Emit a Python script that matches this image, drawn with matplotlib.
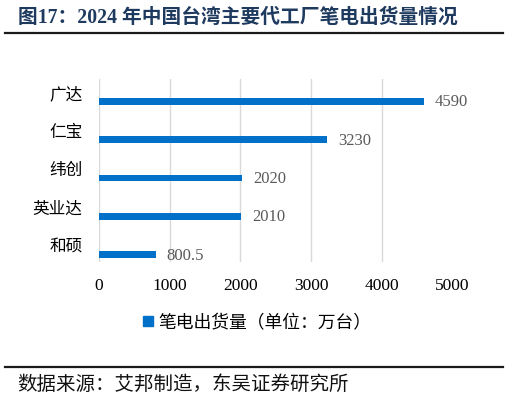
import matplotlib.pyplot as plt
from matplotlib.lines import Line2D

# data
companies = ["广达", "仁宝", "纬创", "英业达", "和硕"]
shipments = [4590, 3230, 2020, 2010, 800.5]
value_labels = ["4590", "3230", "2020", "2010", "800.5"]
xticks = [0, 1000, 2000, 3000, 4000, 5000]

serif_cjk = ["Liberation Serif", "Noto Sans CJK SC"]
bar_color = "#0070C8"

fig = plt.figure(figsize=(5.09, 4.02), dpi=100)
W, H = 509, 402

# plot area in pixels: left 99, right 452.5, top 80, bottom 263
ax = fig.add_axes([99 / W, 1 - 263 / H, (452.5 - 99) / W, (263 - 80) / H])

ypos = [4, 3, 2, 1, 0]
ax.barh(ypos, shipments, height=0.18, color=bar_color, zorder=3)
ax.set_xlim(0, 5000)
ax.set_ylim(-0.196, 4.588)

for y, v, lab in zip(ypos, shipments, value_labels):
    ax.annotate(lab, (v, y), xytext=(8, 0), textcoords="offset points",
                va="center", ha="left", fontsize=12, color="#595959",
                family=serif_cjk)

ax.set_xticks(xticks)
ax.set_xticklabels([str(t) for t in xticks], family=serif_cjk, fontsize=12.5)
ax.set_yticks([y + 0.25 for y in ypos])
ax.set_yticklabels(companies, family=serif_cjk, fontsize=12)
ax.tick_params(length=0, pad=11, axis="x")
ax.tick_params(length=0, pad=12, axis="y")
ax.grid(axis="x", color="#D9D9D9", linewidth=1, zorder=0)
for s in ax.spines.values():
    s.set_visible(False)

# legend
handle = Line2D([], [], marker="s", linestyle="none", color=bar_color, markersize=7)
fig.legend([handle], ["笔电出货量（单位：万台）"], loc="center",
           bbox_to_anchor=(255 / W, 1 - 324 / H), frameon=False,
           prop={"family": serif_cjk, "size": 12.8}, handletextpad=0.1,
           handlelength=1)

# title, rules and source
fig.text(18 / W, 1 - 18 / H, "图17：2024 年中国台湾主要代工厂笔电出货量情况",
         fontsize=14.2, fontweight="bold", color="#1F3A5F", va="center",
         ha="left", family=serif_cjk)
fig.add_artist(Line2D([5 / W, 503 / W], [1 - 34 / H, 1 - 34 / H],
                      color="#1a1a1a", linewidth=1.6))
fig.add_artist(Line2D([5 / W, 503 / W], [1 - 368 / H, 1 - 368 / H],
                      color="#1a1a1a", linewidth=1.6))
fig.text(17 / W, 1 - 385 / H, "数据来源：艾邦制造，东吴证券研究所",
         fontsize=14, color="#111111", va="center", ha="left",
         family=serif_cjk)

fig.savefig("out.png", dpi=100)
